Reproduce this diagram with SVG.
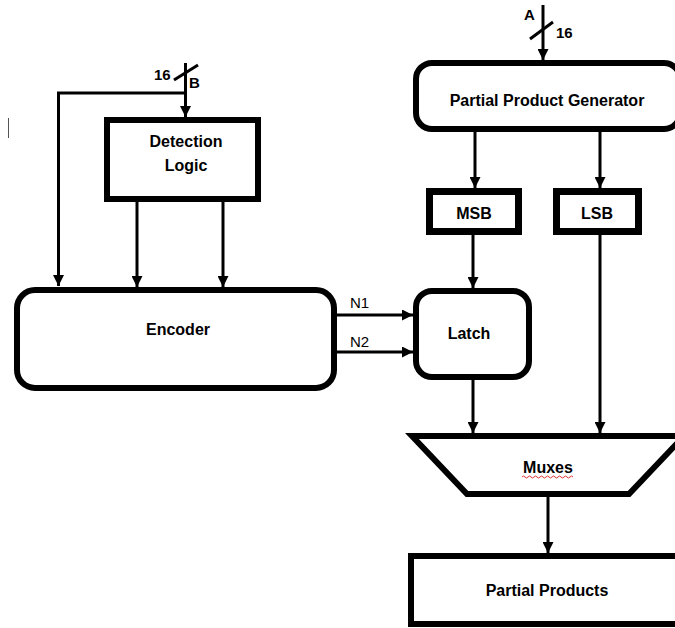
<svg xmlns="http://www.w3.org/2000/svg" width="675" height="628" viewBox="0 0 675 628">
  <style>
    .box { fill: #ffffff; stroke: #000000; stroke-width: 6; }
    .thick { stroke-width: 7; }
    .wire { fill: none; stroke: #000000; stroke-width: 3; }
    .lbl { font-family: "Liberation Sans", Arial, sans-serif; font-weight: bold; font-size: 16px; fill: #000000; text-anchor: middle; }
    .pin { font-family: "Liberation Sans", Arial, sans-serif; font-weight: bold; font-size: 15px; fill: #000000; }
    .sig { font-family: "Liberation Sans", Arial, sans-serif; font-size: 15px; fill: #000000; }
  </style>
  <defs>
    <marker id="arrow" viewBox="0 0 10 10" refX="10" refY="5" markerWidth="11" markerHeight="11" markerUnits="userSpaceOnUse" orient="auto">
      <path d="M0,0 L10,5 L0,10 Z" fill="#000000"/>
    </marker>
  </defs>
  <rect x="0" y="0" width="675" height="628" fill="#ffffff"/>

  <!-- stray cursor mark -->
  <line x1="8.5" y1="118" x2="8.5" y2="138" stroke="#555555" stroke-width="1"/>

  <!-- connectors -->
  <g id="connectors">
    <!-- B operand bus -->
    <line class="wire" x1="185.5" y1="63" x2="185.5" y2="117" marker-end="url(#arrow)"/>
    <line class="wire" x1="174" y1="80" x2="198" y2="65"/>
    <path class="wire" d="M185.5,93 H58.5 V286" marker-end="url(#arrow)"/>
    <!-- detection logic to encoder -->
    <line class="wire" x1="137" y1="202" x2="137" y2="287" marker-end="url(#arrow)"/>
    <line class="wire" x1="223" y1="202" x2="223" y2="287" marker-end="url(#arrow)"/>
    <!-- encoder to latch -->
    <line class="wire" x1="337" y1="315" x2="413" y2="315" marker-end="url(#arrow)"/>
    <line class="wire" x1="337" y1="352" x2="413" y2="352" marker-end="url(#arrow)"/>
    <!-- A operand bus -->
    <line class="wire" x1="543" y1="5" x2="543" y2="60" marker-end="url(#arrow)"/>
    <line class="wire" x1="530" y1="39" x2="553" y2="22"/>
    <!-- generator to MSB / LSB -->
    <line class="wire" x1="475" y1="132" x2="475" y2="188" marker-end="url(#arrow)"/>
    <line class="wire" x1="600" y1="132" x2="600" y2="188" marker-end="url(#arrow)"/>
    <!-- MSB to latch -->
    <line class="wire" x1="473" y1="235" x2="473" y2="288" marker-end="url(#arrow)"/>
    <!-- latch / LSB to muxes -->
    <line class="wire" x1="473" y1="380" x2="473" y2="433" marker-end="url(#arrow)"/>
    <line class="wire" x1="600" y1="235" x2="600" y2="433" marker-end="url(#arrow)"/>
    <!-- muxes to partial products -->
    <line class="wire" x1="548" y1="497" x2="548" y2="553" marker-end="url(#arrow)"/>
  </g>

  <!-- bus labels -->
  <g id="bus-labels">
    <text class="pin" x="154" y="80">16</text>
    <text class="pin" x="189" y="88">B</text>
    <text class="pin" x="524" y="20">A</text>
    <text class="pin" x="556" y="38">16</text>
    <text class="sig" x="350" y="308">N1</text>
    <text class="sig" x="350" y="347">N2</text>
  </g>

  <g id="detection-logic">
    <rect class="box" x="107" y="120" width="151" height="79"/>
    <text class="lbl" x="186" y="147">Detection</text>
    <text class="lbl" x="186" y="171">Logic</text>
  </g>

  <g id="encoder">
    <rect class="box" x="17" y="290" width="317" height="98" rx="18"/>
    <text class="lbl" x="178" y="335">Encoder</text>
  </g>

  <g id="partial-product-generator">
    <rect class="box" x="416" y="63" width="264" height="66" rx="16"/>
    <text class="lbl" x="547" y="106">Partial Product Generator</text>
  </g>

  <g id="msb">
    <rect class="box thick" x="429.5" y="191.5" width="89" height="40"/>
    <text class="lbl" x="474" y="219">MSB</text>
  </g>

  <g id="lsb">
    <rect class="box thick" x="556.5" y="191.5" width="82" height="40"/>
    <text class="lbl" x="597" y="219">LSB</text>
  </g>

  <g id="latch">
    <rect class="box" x="416" y="291" width="113" height="86" rx="16"/>
    <text class="lbl" x="469" y="339">Latch</text>
  </g>

  <g id="muxes">
    <polygon class="box" points="412,436 684,436 629,494 467,494"/>
    <text class="lbl" x="548" y="473">Muxes</text>
    <path d="M522,477 q1.5,-2 3,0 t3,0 t3,0 t3,0 t3,0 t3,0 t3,0 t3,0 t3,0 t3,0 t3,0 t3,0 t3,0 t3,0 t3,0 t3,0 t3,0" fill="none" stroke="#e03030" stroke-width="1"/>
  </g>

  <g id="partial-products">
    <rect class="box" x="411" y="556" width="275" height="68"/>
    <text class="lbl" x="547" y="596">Partial Products</text>
  </g>
</svg>
